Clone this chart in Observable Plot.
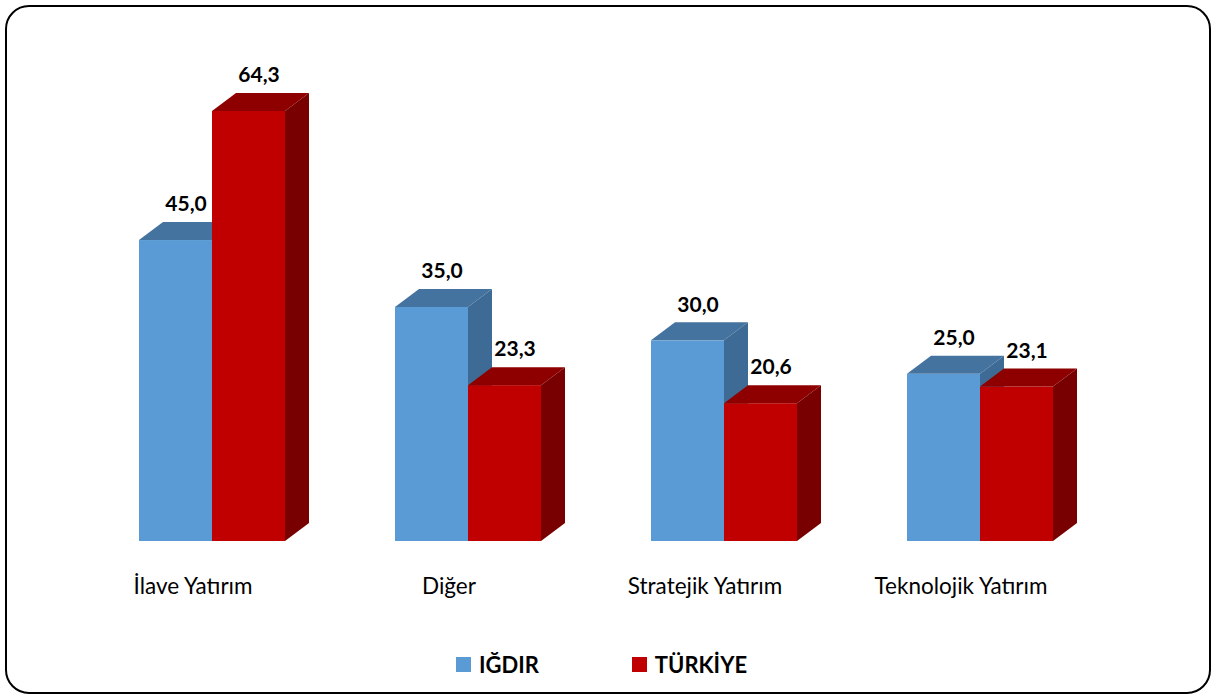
<!DOCTYPE html>
<html>
<head>
<meta charset="utf-8">
<script src="https://cdn.jsdelivr.net/npm/d3@7"></script>
<script src="https://cdn.jsdelivr.net/npm/@observablehq/plot@0.6"></script>
<style>
  html, body { margin: 0; padding: 0; background: #fff; }
  body { width: 1215px; height: 700px; position: relative; overflow: hidden; font-family: Lato, "Open Sans", sans-serif; }
  #frame { position: absolute; left: 5px; top: 5px; width: 1206px; height: 689px; box-sizing: border-box; border: 2px solid #000; border-radius: 24px; }
  #chart { position: absolute; left: 0; top: 0; }
  #legend { position: absolute; left: -6px; top: 651px; width: 1215px; display: flex; justify-content: center; font-weight: 700; font-size: 22px; color: #000; }
  .item { display: flex; align-items: center; }
  .sw { width: 15px; height: 15px; margin-right: 8px; }
</style>
</head>
<body>
<div id="frame"></div>
<div id="chart"></div>
<div id="legend"></div>
<script>
const categories = ["İlave Yatırım", "Diğer", "Stratejik Yatırım", "Teknolojik Yatırım"];
const series = ["IĞDIR", "TÜRKİYE"];
const igdirValues = [45.0, 35.0, 30.0, 25.0];
const turkiyeValues = [64.3, 23.3, 20.6, 23.1];

const frontColors = ["#5B9BD5", "#C00000"];
const topColors = ["#44739F", "#8E0000"];
const sideColors = ["#3E6B95", "#780000"];

const data = [];
categories.forEach((c, i) => {
  data.push({category: c, series: series[0], value: igdirValues[i]});
  data.push({category: c, series: series[1], value: turkiyeValues[i]});
});

const fmt = v => d3.format(".1f")(v).replace(".", ",");

const plot = Plot.plot({
  width: 1215,
  height: 620,
  marginTop: 20,
  marginBottom: 79,
  marginLeft: 28,
  marginRight: 52,
  style: {fontFamily: "Lato, 'Open Sans', sans-serif", background: "transparent"},
  fx: {domain: categories, paddingInner: 0.4267, paddingOuter: 0.4267, label: null},
  x: {domain: series, padding: 0, axis: null},
  y: {domain: [0, 77.9], axis: null},
  color: {domain: series, range: frontColors},
  marks: [
    Plot.barY(data, {fx: "category", x: "series", y: "value", fill: "series", inset: 0}),
    Plot.text(data, {fx: "category", x: "series", y: "value", text: d => fmt(d.value), dx: 10, dy: -36, fontSize: 21, fontWeight: 700, fill: "#000"}),
    Plot.axisFx({anchor: "bottom", tickSize: 0, tickPadding: 37, dx: -19, fontSize: 22.5, fill: "#000", label: null})
  ]
});
document.getElementById("chart").appendChild(plot);

// Extrude bars into 3D boxes (top and side faces derived from the rendered bar rects)
const depthX = 24, depthY = 18;
const frontToIndex = new Map(frontColors.map((c, i) => [c.toLowerCase(), i]));
plot.querySelectorAll('g[aria-label="bar"] rect').forEach(rect => {
  const x = +rect.getAttribute("x"), y = +rect.getAttribute("y");
  const w = +rect.getAttribute("width"), h = +rect.getAttribute("height");
  const fill = (rect.getAttribute("fill") || "").toLowerCase();
  const idx = frontToIndex.has(fill) ? frontToIndex.get(fill) : 0;
  const ns = "http://www.w3.org/2000/svg";
  const top = document.createElementNS(ns, "polygon");
  top.setAttribute("points", [[x, y], [x + depthX, y - depthY], [x + w + depthX, y - depthY], [x + w, y]].map(p => p.join(",")).join(" "));
  top.setAttribute("fill", topColors[idx]);
  const side = document.createElementNS(ns, "polygon");
  side.setAttribute("points", [[x + w, y], [x + w + depthX, y - depthY], [x + w + depthX, y + h - depthY], [x + w, y + h]].map(p => p.join(",")).join(" "));
  side.setAttribute("fill", sideColors[idx]);
  rect.after(top);
  top.after(side);
});

// Legend
const legend = document.getElementById("legend");
series.forEach((s, i) => {
  const item = document.createElement("div");
  item.className = "item";
  item.style.marginRight = i === 0 ? "93px" : "0";
  const sw = document.createElement("div");
  sw.className = "sw";
  sw.style.background = frontColors[i];
  const label = document.createElement("span");
  label.textContent = s;
  item.appendChild(sw);
  item.appendChild(label);
  legend.appendChild(item);
});
</script>
</body>
</html>
